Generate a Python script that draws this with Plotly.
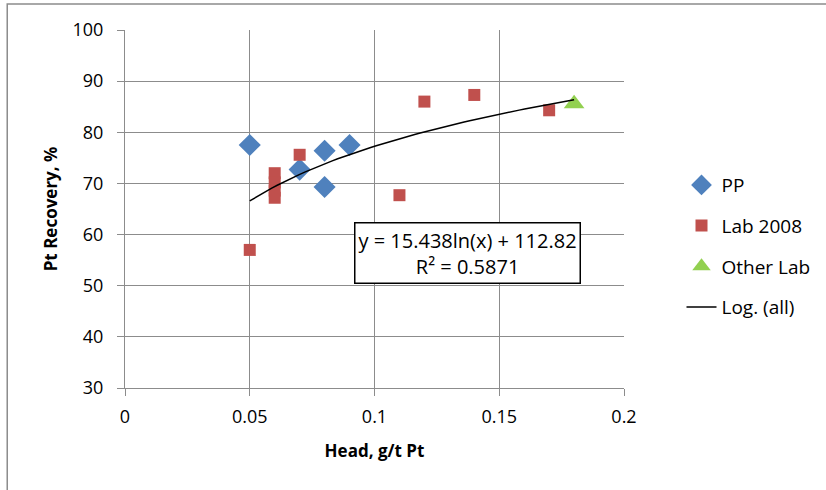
import numpy as np
import plotly.graph_objects as go

pp_x = [0.05, 0.07, 0.08, 0.08, 0.09]
pp_y = [77.5, 72.7, 76.4, 69.3, 77.5]

lab_x = [0.05, 0.06, 0.06, 0.06, 0.06, 0.07, 0.11, 0.12, 0.14, 0.17]
lab_y = [57.0, 72.0, 70.2, 68.6, 67.2, 75.6, 67.7, 86.0, 87.3, 84.3]

other_x = [0.18]
other_y = [85.6]

coef_a = 15.438
coef_b = 112.82
fit_x = np.linspace(0.05, 0.18, 60)
fit_y = coef_a * np.log(fit_x) + coef_b

font_main = "Open Sans"
fig = go.Figure()
fig.add_trace(go.Scatter(x=pp_x, y=pp_y, mode="markers", name="PP", legendgroup="a",
                         marker=dict(symbol="diamond", size=17, color="#4F81BD")))
fig.add_trace(go.Scatter(x=lab_x, y=lab_y, mode="markers", name="Lab 2008", legendgroup="b",
                         marker=dict(symbol="square", size=12, color="#C0504D")))
fig.add_trace(go.Scatter(x=other_x, y=other_y, mode="markers", name="Other Lab", legendgroup="c",
                         marker=dict(symbol="triangle-up", size=18, color="#92D050")))
fig.add_trace(go.Scatter(x=fit_x, y=fit_y, mode="lines", name="Log. (all)", legendgroup="d",
                         line=dict(color="black", width=1.5)))

axis_common = dict(showgrid=True, gridcolor="#8C8C8C", gridwidth=1, showline=True,
                   linecolor="#8C8C8C", linewidth=1, ticks="outside", tickcolor="#8C8C8C",
                   ticklen=7, zeroline=False, tickfont=dict(size=18, color="black", family=font_main))

fig.update_layout(
    width=826, height=490,
    margin=dict(l=125, r=201, t=30, b=102),
    paper_bgcolor="white", plot_bgcolor="white",
    font=dict(family=font_main, color="black"),
    xaxis=dict(range=[0, 0.2], tickvals=[0, 0.05, 0.1, 0.15, 0.2],
               ticktext=["0", "0.05", "0.1", "0.15", "0.2"], ticklabelstandoff=5,
               title=dict(text="<b>Head, g/t Pt</b>", font=dict(size=17), standoff=18),
               **axis_common),
    yaxis=dict(range=[30, 100], dtick=10, ticklabelstandoff=10,
               title=dict(text="<b>Pt Recovery, %</b>", font=dict(size=17), standoff=10),
               **axis_common),
    legend=dict(x=1.113, y=0.62, xanchor="left", yanchor="top", font=dict(size=19),
                tracegroupgap=13, bgcolor="rgba(0,0,0,0)"),
    showlegend=True,
)

fig.add_annotation(x=0.1372, y=56.4, xref="x", yref="y", showarrow=False,
                   text="y = 15.438ln(x) + 112.82<br>R² = 0.5871",
                   font=dict(size=20, color="black"), align="center",
                   bordercolor="black", borderwidth=1.5, bgcolor="white", borderpad=3)

fig.add_shape(type="rect", xref="paper", yref="paper", x0=-0.236, y0=-0.6, x1=1.6, y1=1.0726,
              line=dict(color="#8C8C8C", width=1.5), layer="below")

fig.write_html("out.html", config={"displayModeBar": False},
               post_script="document.body.style.margin='0px';")
